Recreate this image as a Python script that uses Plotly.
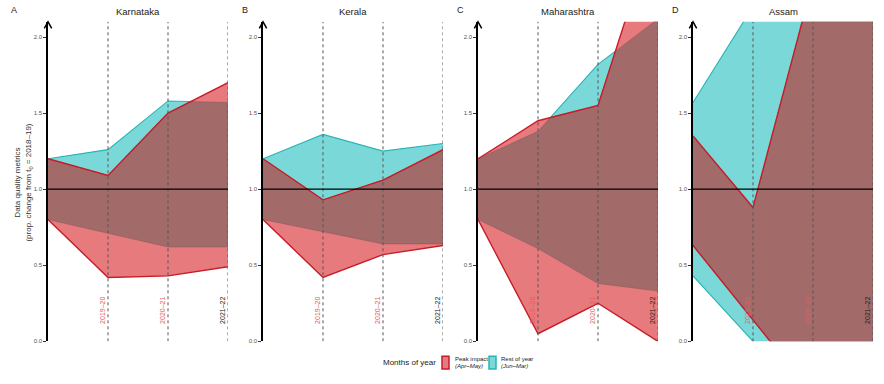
import plotly.graph_objects as go

# ---------------- data ----------------
years = ["2018–19", "2019–20", "2020–21", "2021–22"]
year_label_colors = ["#222222", "#EA5A60", "#EA5A60", "#222222"]
states = ["Karnataka", "Kerala", "Maharashtra", "Assam"]
panel_letters = ["A", "B", "C", "D"]

# Peak impact months (Apr–May): upper / lower bounds
peak_hi = {
    "Karnataka":   [1.20, 1.09, 1.50, 1.70],
    "Kerala":      [1.20, 0.93, 1.06, 1.26],
    "Maharashtra": [1.20, 1.45, 1.55, 2.78],
    "Assam":       [1.35, 0.88, 2.37, 2.60],
}
peak_lo = {
    "Karnataka":   [0.80, 0.42, 0.43, 0.49],
    "Kerala":      [0.80, 0.42, 0.57, 0.63],
    "Maharashtra": [0.80, 0.05, 0.25, 0.00],
    "Assam":       [0.63, 0.14, -0.35, -0.45],
}
# Rest of year (Jun–Mar): upper / lower bounds
rest_hi = {
    "Karnataka":   [1.20, 1.26, 1.58, 1.57],
    "Kerala":      [1.20, 1.36, 1.25, 1.30],
    "Maharashtra": [1.20, 1.38, 1.82, 2.12],
    "Assam":       [1.57, 2.20, 2.70, 2.90],
}
rest_lo = {
    "Karnataka":   [0.80, 0.71, 0.62, 0.62],
    "Kerala":      [0.80, 0.72, 0.64, 0.64],
    "Maharashtra": [0.80, 0.61, 0.38, 0.33],
    "Assam":       [0.43, 0.00, -0.40, -0.50],
}
ytick_vals = [0.0, 0.5, 1.0, 1.5, 2.0]
ytick_text = ["0.0", "0.5", "1.0", "1.5", "2.0"]

# ---------------- styles ----------------
W, H = 884, 384
FONT = "Liberation Sans, Arial, sans-serif"
RED_FILL = "rgb(230,122,124)"
RED_LINE = "rgb(200,28,40)"
CYAN_FILL = "rgb(122,216,216)"
CYAN_LINE = "rgb(40,180,180)"
OVER_FILL = "rgb(163,106,106)"
YMAX = 2.1

axis_px = [48 + 215 * i for i in range(4)]
panel_w = 180
y_bot_px, y_top_px = 344, 22


def px(x):
    return x / W


def py(y):
    return 1 - y / H


def envelope(xs, a, b, fn):
    ox, oy = [], []
    n = len(xs)
    for i in range(n):
        ox.append(xs[i])
        oy.append(fn(a[i], b[i]))
        if i < n - 1:
            d0 = a[i] - b[i]
            d1 = a[i + 1] - b[i + 1]
            if d0 * d1 < 0:
                t = d0 / (d0 - d1)
                ox.append(xs[i] + t * (xs[i + 1] - xs[i]))
                oy.append(a[i] + t * (a[i + 1] - a[i]))
    return ox, oy


def txt(x, y, text, size, color="#222", xanchor="center", angle=0):
    return dict(xref="paper", yref="paper", x=px(x), y=py(y), text=text, showarrow=False,
                xanchor=xanchor, yanchor="middle", textangle=angle,
                font=dict(size=size, color=color, family=FONT))


fig = go.Figure()
shapes = []
annotations = []
xs = list(range(len(years)))

for k, st in enumerate(states):
    xa = "x" if k == 0 else f"x{k + 1}"
    ya = "y" if k == 0 else f"y{k + 1}"
    ph, pl, rh, rl = peak_hi[st], peak_lo[st], rest_hi[st], rest_lo[st]

    # cyan band
    fig.add_trace(go.Scatter(x=xs + xs[::-1], y=rh + rl[::-1], fill="toself",
                             fillcolor=CYAN_FILL, line=dict(width=0), mode="lines",
                             hoverinfo="skip", showlegend=False, xaxis=xa, yaxis=ya))
    for arr in (rh, rl):
        fig.add_trace(go.Scatter(x=xs, y=arr, mode="lines", line=dict(color=CYAN_LINE, width=1.1),
                                 hoverinfo="skip", showlegend=False, xaxis=xa, yaxis=ya))
    # red band
    fig.add_trace(go.Scatter(x=xs + xs[::-1], y=ph + pl[::-1], fill="toself",
                             fillcolor=RED_FILL, line=dict(width=0), mode="lines",
                             hoverinfo="skip", showlegend=False, xaxis=xa, yaxis=ya))
    # overlap band
    ux, uy = envelope(xs, ph, rh, min)
    lx, ly = envelope(xs, pl, rl, max)
    fig.add_trace(go.Scatter(x=ux + lx[::-1], y=uy + ly[::-1], fill="toself",
                             fillcolor=OVER_FILL, line=dict(width=0.6, color="rgba(110,80,80,0.6)"),
                             mode="lines", hoverinfo="skip", showlegend=False, xaxis=xa, yaxis=ya))
    for arr in (ph, pl):
        fig.add_trace(go.Scatter(x=xs, y=arr, mode="lines", line=dict(color=RED_LINE, width=1.4),
                                 hoverinfo="skip", showlegend=False, xaxis=xa, yaxis=ya))

    # vertical dotted year lines
    for i in xs[1:]:
        shapes.append(dict(type="line", xref=xa, yref=ya, x0=i, x1=i, y0=0, y1=YMAX,
                           line=dict(color="#555555", width=1, dash="dot"), layer="above"))
        annotations.append(dict(xref=xa, yref=ya, x=i, y=0.2, xshift=-5, text=years[i],
                                textangle=-90, showarrow=False, xanchor="center", yanchor="middle",
                                font=dict(size=7, color=year_label_colors[i], family=FONT)))
    # reference line at 1
    shapes.append(dict(type="line", xref=xa, yref=ya, x0=0, x1=3, y0=1, y1=1,
                       line=dict(color="black", width=1.3), layer="above"))

    # axis arrow head
    ax0 = axis_px[k]
    shapes.append(dict(type="path", xref="paper", yref="paper",
                       path=f"M {px(ax0 - 3.7)},{py(y_top_px + 6.5)} L {px(ax0)},{py(y_top_px)} "
                            f"L {px(ax0 + 3.7)},{py(y_top_px + 6.5)}",
                       line=dict(color="black", width=1.5)))

    # titles and letters
    annotations.append(txt(ax0 + panel_w / 2, 12, st, 9.5))
    letter_x = 14 if k == 0 else ax0 - 18
    annotations.append(txt(letter_x, 10, panel_letters[k], 9))

# y axis title
annotations.append(txt(23, 184, "Data quality metrics<br>(prop. change from t<sub>0</sub> = 2018–19)",
                       8, color="#333", angle=-90))

# legend
annotations.append(txt(438, 365, "Months of year", 8, xanchor="right"))
shapes.append(dict(type="rect", xref="paper", yref="paper", x0=px(442), x1=px(449),
                   y0=py(372), y1=py(359), fillcolor=RED_FILL, line=dict(color=RED_LINE, width=1.5)))
shapes.append(dict(type="rect", xref="paper", yref="paper", x0=px(489), x1=px(496),
                   y0=py(372), y1=py(359), fillcolor=CYAN_FILL, line=dict(color=CYAN_LINE, width=1.5)))
for lx0, t1, t2 in [(453, "Peak impact", "(Apr–May)"), (499, "Rest of year", "(Jun–Mar)")]:
    annotations.append(txt(lx0, 361.5, t1, 6, xanchor="left"))
    annotations.append(txt(lx0, 368.5, f"<i>{t2}</i>", 6, xanchor="left"))

layout = dict(width=W, height=H, margin=dict(l=0, r=0, t=0, b=0),
              paper_bgcolor="white", plot_bgcolor="rgba(0,0,0,0)",
              shapes=shapes, annotations=annotations, showlegend=False,
              font=dict(family=FONT))
for k in range(4):
    xkey = "xaxis" if k == 0 else f"xaxis{k + 1}"
    ykey = "yaxis" if k == 0 else f"yaxis{k + 1}"
    xanchor = "y" if k == 0 else f"y{k + 1}"
    yanchor = "x" if k == 0 else f"x{k + 1}"
    layout[xkey] = dict(domain=[px(axis_px[k]), px(axis_px[k] + panel_w)], range=[0, 3],
                        visible=False, anchor=xanchor, fixedrange=True)
    layout[ykey] = dict(domain=[py(y_bot_px), py(y_top_px)], range=[0, YMAX], anchor=yanchor,
                        showgrid=False, zeroline=False, showline=True, linecolor="black",
                        linewidth=1.5, ticks="outside", ticklen=3, tickcolor="#333", tickwidth=1,
                        tickvals=ytick_vals, ticktext=ytick_text,
                        tickfont=dict(size=6, color="#555", family=FONT), fixedrange=True)

fig.update_layout(**layout)
fig.write_html("out.html", config={"displayModeBar": False},
               post_script="document.body.style.margin='0';document.body.style.overflow='hidden';")
